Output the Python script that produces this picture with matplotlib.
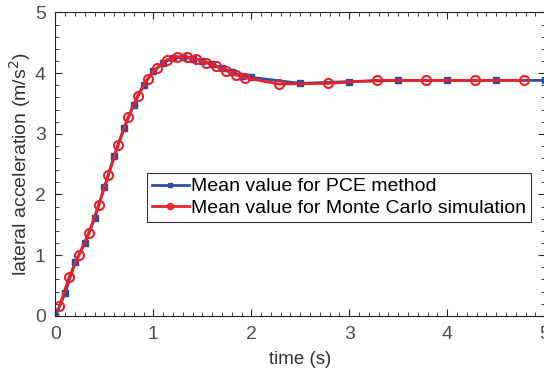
import matplotlib
matplotlib.use("Agg")
import matplotlib.pyplot as plt
from matplotlib.ticker import MultipleLocator

# Moyenne PCE (points tous les 0.1 s puis tous les 0.5 s)
t_pce = [0.0, 0.1, 0.2, 0.3, 0.4, 0.5, 0.6, 0.7, 0.8, 0.9, 1.0, 1.1, 1.2, 1.3,
         1.4, 1.5, 1.6, 1.7, 1.8, 1.9, 2.0, 2.5, 3.0, 3.5, 4.0, 4.5, 5.0]
a_pce = [0.0, 0.38, 0.88, 1.20, 1.61, 2.12, 2.64, 3.09, 3.48, 3.81, 4.03, 4.17,
         4.25, 4.26, 4.24, 4.20, 4.15, 4.08, 4.02, 3.96, 3.93, 3.83, 3.86, 3.88,
         3.88, 3.88, 3.88]

# Moyenne Monte Carlo
t_mc = [0.04, 0.14, 0.24, 0.34, 0.44, 0.54, 0.64, 0.74, 0.84, 0.94, 1.04, 1.14,
        1.24, 1.34, 1.44, 1.54, 1.64, 1.74, 1.84, 1.94, 2.28, 2.78, 3.28, 3.78,
        4.28, 4.78]
a_mc = [0.16, 0.64, 1.00, 1.36, 1.82, 2.32, 2.82, 3.27, 3.63, 3.90, 4.09, 4.22,
        4.27, 4.27, 4.23, 4.17, 4.11, 4.04, 3.97, 3.92, 3.82, 3.83, 3.88, 3.88,
        3.88, 3.88]

plt.rcParams['font.family'] = ['Liberation Sans', 'DejaVu Sans']

fig = plt.figure(figsize=(5.44, 3.76), dpi=100)
ax = fig.add_axes([0.102, 0.16, 0.9, 0.807])

ax.plot(t_pce, a_pce, color='#2f4ea2', lw=2, marker='s', ms=5,
        mfc='#2f4ea2', mec='#2f4ea2', label='Mean value for PCE method')
ax.plot(t_mc, a_mc, color='#e8212b', lw=2, marker='o', ms=6.5, mfc='none',
        mec='#e8212b', mew=1.5, label='Mean value for Monte Carlo simulation')

ax.set_xlim(0, 5)
ax.set_ylim(0, 5)
ax.xaxis.set_major_locator(MultipleLocator(1))
ax.xaxis.set_minor_locator(MultipleLocator(0.1))
ax.yaxis.set_major_locator(MultipleLocator(1))
ax.yaxis.set_minor_locator(MultipleLocator(0.2))
ax.tick_params(which='both', direction='in', top=True, right=True,
               colors='#262626', labelcolor='#4d4d4d', labelsize=14)
ax.tick_params(which='major', length=5, pad=7)
ax.tick_params(which='minor', length=3)
for s in ax.spines.values():
    s.set_color('#262626')

ax.set_xlabel('time (s)', fontsize=13.5, color='#333333', labelpad=6)
ax.set_ylabel('lateral acceleration (m/s$^2$)', fontsize=14, color='#333333', labelpad=1)

leg = ax.legend(loc='upper left', bbox_to_anchor=(0.187, 0.471), borderaxespad=0,
                fancybox=False, framealpha=1, edgecolor='#333333', fontsize=14,
                handlelength=1.9, handletextpad=0.1, markerscale=0.6,
                borderpad=0.25, labelspacing=0.2)
leg.get_frame().set_linewidth(0.8)

fig.savefig('out.png', dpi=100)
